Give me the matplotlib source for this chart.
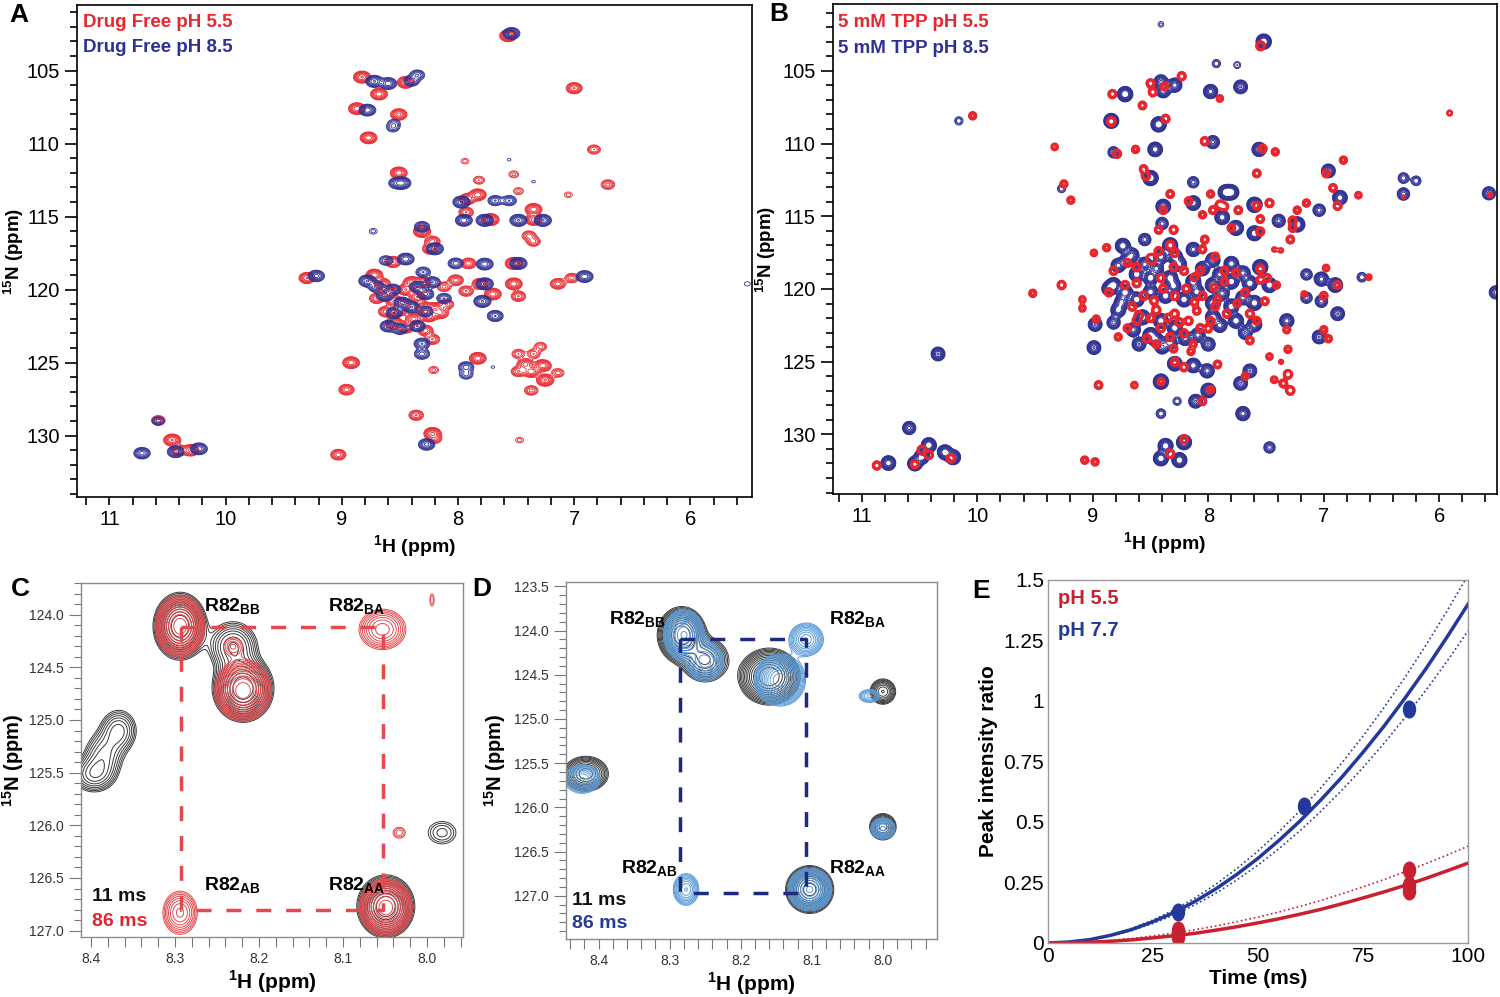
import numpy as np
import matplotlib.pyplot as plt
from matplotlib.path import Path
from matplotlib.transforms import Affine2D
from matplotlib.ticker import MultipleLocator, FormatStrFormatter, FixedLocator, FixedFormatter

plt.rcParams['font.family'] = ['Liberation Sans', 'DejaVu Sans']
plt.rcParams['mathtext.fontset'] = 'custom'
plt.rcParams['mathtext.rm'] = 'Liberation Sans'
plt.rcParams['mathtext.bf'] = 'Liberation Sans:bold'

RED = '#e8262d'
BLUE = '#2e3192'

# ---------------- panel A: drug free, peaks (1H ppm, 15N ppm, height)
A_red = [
    (7.567, 102.6, 1.0), (8.826, 105.44, 1.0), (8.45, 105.8, 0.9), (8.68, 106.6, 0.9),
    (7.00, 106.2, 0.7), (8.87, 107.6, 0.9), (8.51, 108.0, 0.8), (8.77, 109.6, 0.9),
    (6.83, 110.4, 0.35), (6.71, 112.8, 0.4), (8.51, 112.0, 0.9), (7.94, 111.2, 0.15),
    (7.52, 112.1, 0.2), (7.82, 112.5, 0.25), (7.48, 113.25, 0.2), (7.05, 113.5, 0.15),
    (7.83, 113.5, 0.9), (7.92, 113.8, 0.7), (7.93, 114.7, 0.5), (7.72, 115.2, 1.0),
    (7.35, 114.5, 0.9), (7.35, 115.2, 0.8), (7.39, 116.3, 0.4), (7.35, 116.7, 0.4),
    (8.31, 116.0, 1.0), (8.22, 116.7, 0.6), (8.24, 117.2, 0.6), (8.56, 118.1, 0.7),
    (7.91, 118.2, 0.6), (7.52, 118.2, 1.0), (9.30, 119.2, 0.7), (7.14, 119.6, 0.6),
    (7.02, 119.2, 0.4), (7.52, 119.6, 0.9), (7.81, 119.6, 0.7), (8.02, 119.35, 0.6),
    (7.93, 120.1, 0.5), (7.70, 120.3, 0.9), (7.48, 120.45, 0.5),
    (8.72, 119.0, 0.9), (8.65, 119.6, 0.7), (8.60, 120.2, 0.8), (8.55, 120.8, 0.7),
    (8.50, 121.4, 0.8), (8.45, 120.0, 0.7), (8.40, 119.5, 0.8), (8.35, 120.5, 0.7),
    (8.30, 121.2, 0.8), (8.25, 121.8, 0.9), (8.20, 121.3, 0.9), (8.15, 121.6, 0.7),
    (8.62, 121.5, 0.6), (8.55, 122.3, 1.0), (8.45, 122.6, 0.7), (8.38, 122.0, 0.8),
    (8.28, 122.8, 0.6), (8.22, 123.4, 0.5), (8.30, 119.5, 0.7), (8.12, 119.8, 0.4),
    (8.10, 121.0, 0.5), (8.48, 121.0, 0.6), (8.70, 120.6, 0.5),
    (7.48, 124.4, 0.35), (7.35, 124.4, 0.35), (7.29, 123.9, 0.3), (7.42, 125.1, 0.8),
    (7.37, 125.6, 0.9), (7.27, 125.2, 0.9), (7.25, 126.2, 1.0), (7.14, 125.7, 0.3),
    (7.37, 126.9, 0.4), (7.48, 125.6, 0.5), (7.83, 124.7, 0.9), (8.92, 125.0, 0.9),
    (8.96, 126.85, 0.6), (9.03, 131.3, 0.6), (8.36, 128.6, 0.5), (8.22, 129.85, 1.0),
    (7.47, 130.3, 0.15), (8.21, 125.5, 0.2), (8.20, 130.2, 0.4),
    (10.58, 128.95, 0.4), (10.46, 130.3, 1.0), (10.30, 131.0, 0.8), (10.40, 131.0, 0.5),
]
A_blue = [
    (7.54, 102.45, 0.9), (8.72, 105.73, 1.0), (8.60, 105.88, 0.9), (8.35, 105.3, 0.5),
    (8.40, 105.7, 0.6), (8.78, 107.7, 0.9), (8.56, 108.9, 0.3), (8.48, 112.7, 1.0),
    (8.53, 112.7, 0.6), (7.97, 114.0, 1.0), (7.95, 115.25, 0.9), (7.68, 113.9, 0.5),
    (7.56, 113.9, 0.5), (7.77, 115.25, 1.0), (7.48, 115.25, 1.0), (7.27, 115.25, 1.0),
    (7.56, 111.1, 0.1), (7.35, 112.6, 0.1), (8.31, 115.7, 0.6), (8.20, 117.2, 1.0),
    (8.45, 117.9, 0.9), (8.02, 118.2, 0.6), (7.77, 118.25, 0.9), (7.48, 118.2, 1.0),
    (9.22, 119.06, 0.8), (6.91, 119.1, 0.9), (7.77, 119.6, 1.0), (7.79, 120.8, 1.0),
    (7.68, 121.8, 0.7), (8.78, 119.4, 1.0), (8.70, 119.8, 0.8), (8.63, 120.4, 0.8),
    (8.56, 120.0, 0.7), (8.48, 120.9, 0.8), (8.40, 121.2, 0.7), (8.35, 119.8, 0.7),
    (8.28, 120.3, 0.8), (8.22, 119.5, 0.7), (8.55, 121.6, 0.7), (8.60, 122.5, 0.8),
    (8.50, 122.7, 0.6), (8.35, 122.5, 0.7), (8.28, 121.5, 0.6), (8.12, 120.6, 0.5),
    (8.30, 118.8, 0.5), (8.31, 123.7, 0.7), (8.31, 124.4, 0.6), (7.93, 125.3, 0.6),
    (7.93, 125.8, 0.4), (8.27, 130.6, 0.8), (10.43, 131.1, 0.9), (10.23, 130.9, 0.9),
    (10.72, 131.2, 0.8), (10.58, 129.0, 0.3), (5.51, 119.6, 0.12), (7.70, 125.3, 0.1),
    (8.62, 118.0, 0.4), (8.73, 116.0, 0.15), (8.55, 108.6, 0.25),
]

# ---------------- panel B: 5 mM TPP
B_red = [
    (7.547, 103.28, 1.0), (8.83, 106.6, 0.8), (8.57, 107.38, 0.7), (8.84, 108.49, 1.0),
    (8.37, 108.3, 0.8), (8.50, 105.86, 0.8), (8.48, 106.47, 0.8), (8.23, 105.37, 0.8),
    (8.38, 106.08, 0.7), (10.04, 108.09, 0.6), (9.33, 110.23, 0.5), (9.09, 110.82, 0.2),
    (8.79, 110.70, 0.8), (8.63, 110.40, 0.6), (8.03, 109.84, 0.8), (7.90, 106.9, 0.5),
    (7.53, 110.35, 0.8), (7.42, 110.57, 0.6), (6.83, 111.14, 0.6), (6.98, 112.05, 0.7),
    (7.58, 112.05, 0.7), (8.56, 111.75, 0.7), (8.54, 112.24, 0.8), (9.25, 112.78, 0.6),
    (9.19, 113.89, 0.6), (8.33, 113.47, 0.7), (8.17, 113.96, 0.7), (7.98, 113.47, 0.6),
    (8.39, 114.58, 0.7), (7.90, 114.2, 0.8), (7.96, 114.58, 0.7), (7.86, 114.33, 0.7),
    (7.74, 114.58, 0.7), (7.58, 114.28, 0.8), (7.47, 114.09, 0.8), (7.15, 114.09, 0.6),
    (7.23, 114.58, 0.6), (6.92, 113.05, 0.7), (6.88, 114.28, 0.8), (6.70, 113.55, 0.5),
    (7.12, 105.79, 0.2), (6.77, 107.9, 0.2), (5.91, 107.9, 0.35), (6.31, 113.67, 0.25),
    (5.56, 113.55, 0.3), (7.27, 115.3, 0.8), (7.27, 115.8, 0.7), (7.55, 115.19, 0.7),
    (7.80, 115.8, 0.7), (7.55, 116.05, 0.8), (7.29, 116.6, 0.7), (7.43, 117.28, 0.3),
    (7.37, 117.35, 0.3), (8.05, 114.9, 0.6), (8.30, 115.93, 0.8), (8.43, 115.93, 0.7),
    (8.03, 116.6, 0.7), (8.88, 117.16, 0.6), (8.99, 117.52, 0.5), (8.82, 118.75, 0.8),
    (8.33, 116.99, 0.9), (8.43, 117.40, 0.8), (8.29, 117.52, 0.8), (8.50, 117.89, 0.8),
    (8.05, 117.28, 0.7), (7.94, 117.77, 0.7), (8.62, 118.5, 0.8), (8.41, 119.24, 0.8),
    (8.21, 118.75, 0.8), (8.07, 118.75, 0.7), (7.86, 118.75, 0.8), (7.76, 118.88, 0.7),
    (7.55, 118.63, 0.8), (7.49, 119.24, 0.7), (7.41, 119.73, 0.6), (7.55, 119.37, 0.7),
    (8.86, 120.23, 0.8), (8.72, 119.73, 0.8), (8.56, 120.47, 0.9), (8.39, 119.98, 0.8),
    (8.29, 120.47, 0.9), (8.19, 119.98, 0.8), (8.05, 120.47, 0.8), (7.86, 119.49, 0.7),
    (7.68, 120.23, 0.8), (7.51, 120.84, 0.7), (8.66, 121.21, 0.8), (8.45, 121.45, 0.9),
    (8.29, 121.70, 0.8), (8.17, 122.19, 0.8), (7.94, 121.21, 0.7), (7.84, 121.70, 0.8),
    (7.64, 121.70, 0.8), (7.58, 122.19, 0.7), (8.62, 122.19, 0.8), (8.41, 122.68, 0.9),
    (8.21, 123.05, 0.8), (8.53, 123.42, 0.8), (8.33, 123.30, 0.8), (8.07, 122.68, 0.7),
    (8.00, 122.73, 0.7), (7.64, 123.54, 0.7), (8.13, 123.79, 0.6), (8.78, 123.30, 0.6),
    (8.97, 122.07, 0.6), (9.09, 120.72, 0.5), (9.09, 121.33, 0.5), (9.52, 120.30, 0.6),
    (9.27, 119.73, 0.8), (7.32, 122.80, 0.6), (7.31, 124.15, 0.6), (7.00, 122.80, 0.6),
    (6.96, 123.42, 0.6), (7.00, 120.47, 0.7), (7.17, 120.35, 0.4), (6.98, 118.56, 0.5),
    (6.61, 119.19, 0.4), (6.88, 119.73, 0.7), (8.29, 125.01, 0.8), (8.21, 125.38, 0.8),
    (7.92, 125.19, 0.7), (7.98, 126.93, 0.6), (8.05, 127.72, 0.7), (8.64, 126.61, 0.5),
    (8.95, 126.61, 0.7), (8.41, 126.37, 0.6), (7.68, 126.0, 0.6), (7.47, 124.65, 0.5),
    (7.37, 125.01, 0.3), (7.31, 125.87, 0.9), (7.29, 126.98, 0.9), (7.43, 126.24, 0.5),
    (7.35, 126.5, 0.7), (9.07, 131.77, 0.6), (8.98, 131.89, 0.6), (8.33, 131.33, 0.9),
    (8.21, 130.34, 0.8), (10.48, 131.08, 1.0), (10.42, 131.40, 0.9), (10.23, 131.65, 0.9),
    (10.87, 132.14, 0.8), (10.54, 132.06, 0.8), (10.34, 125.31, 0.15), (7.47, 130.9, 0.15),
    (8.70, 118.2, 0.7), (8.48, 118.0, 0.7), (8.30, 118.5, 0.8), (8.12, 119.2, 0.7),
    (7.95, 119.9, 0.7), (7.75, 121.0, 0.7), (8.60, 121.8, 0.8), (8.50, 122.0, 0.8),
    (8.35, 122.0, 0.8), (8.25, 122.3, 0.8), (8.10, 121.5, 0.7), (7.98, 122.2, 0.7),
    (8.70, 122.7, 0.7), (8.45, 123.8, 0.7), (8.30, 124.1, 0.7), (8.15, 124.3, 0.6),
    (8.62, 119.6, 0.8), (8.47, 120.8, 0.8), (8.12, 120.9, 0.7), (7.92, 120.7, 0.7),
]
B_blue = [
    (7.52, 102.99, 1.0), (8.72, 106.6, 1.0), (8.39, 106.35, 0.8), (8.41, 105.74, 0.6),
    (8.29, 105.98, 0.7), (8.84, 108.44, 0.9), (8.43, 108.68, 1.0), (8.46, 110.40, 0.8),
    (7.98, 106.42, 0.7), (7.93, 104.5, 0.15), (7.72, 106.1, 0.6), (7.75, 104.6, 0.12),
    (8.41, 101.8, 0.1), (10.16, 108.44, 0.15), (7.56, 110.40, 0.7), (7.96, 109.9, 0.5),
    (8.82, 110.6, 0.3), (8.50, 112.37, 1.0), (9.27, 113.10, 0.15), (8.13, 112.66, 0.3),
    (7.85, 113.35, 0.9), (7.80, 113.35, 0.9), (8.13, 114.09, 0.8), (8.39, 114.33, 0.8),
    (7.60, 114.21, 1.0), (7.88, 115.07, 0.8), (7.76, 115.80, 0.9), (7.60, 116.17, 0.9),
    (7.39, 115.31, 0.5), (7.23, 115.56, 1.0), (6.96, 111.88, 0.6), (6.86, 113.72, 0.8),
    (7.04, 114.58, 0.4), (6.31, 112.37, 0.25), (6.20, 112.56, 0.2), (6.31, 113.47, 0.4),
    (5.57, 113.42, 0.5), (5.51, 120.23, 0.5), (6.67, 119.19, 0.2), (7.15, 119.0, 0.3),
    (7.02, 119.32, 0.7), (6.90, 119.73, 0.8), (7.02, 120.84, 0.4), (6.88, 121.70, 0.6),
    (7.15, 120.6, 0.3), (7.04, 123.30, 0.6), (7.32, 122.19, 0.7),
    (8.74, 117.03, 0.9), (8.66, 117.65, 0.6), (8.78, 118.38, 0.7), (8.41, 117.77, 0.8),
    (8.33, 116.99, 0.9), (8.29, 117.77, 0.9), (8.13, 117.28, 0.7), (7.96, 118.0, 0.7),
    (7.80, 118.26, 0.8), (7.55, 118.5, 1.0), (7.47, 119.73, 0.9), (8.62, 118.99, 0.9),
    (8.50, 119.24, 0.9), (8.33, 119.24, 0.9), (8.13, 119.49, 0.9), (7.96, 119.73, 0.9),
    (7.80, 119.49, 0.9), (7.64, 119.61, 0.9), (8.82, 119.73, 0.9), (8.72, 120.23, 0.9),
    (8.62, 120.72, 0.9), (8.37, 120.47, 0.9), (8.21, 120.72, 0.9), (7.96, 120.96, 0.9),
    (7.80, 121.21, 0.9), (7.60, 120.96, 0.9), (8.78, 121.45, 0.8), (8.57, 121.95, 0.9),
    (8.41, 122.19, 0.9), (8.29, 122.68, 0.9), (7.96, 121.95, 0.9), (7.76, 122.19, 0.9),
    (7.60, 122.44, 0.8), (8.50, 123.17, 0.9), (8.33, 123.66, 0.8), (8.09, 123.17, 0.7),
    (8.86, 119.98, 0.7), (8.82, 122.31, 0.5), (8.98, 122.44, 0.6), (8.99, 124.03, 0.6),
    (8.41, 126.37, 1.0), (8.29, 125.14, 0.8), (8.13, 125.26, 0.8), (8.01, 125.63, 0.7),
    (8.00, 126.98, 0.8), (8.11, 127.72, 0.6), (7.64, 125.63, 0.6), (7.72, 126.49, 0.6),
    (7.70, 128.57, 0.7), (8.27, 127.72, 0.15), (8.41, 128.57, 0.2), (8.37, 130.79, 0.9),
    (8.21, 130.54, 0.9), (8.25, 131.77, 0.9), (8.41, 131.65, 0.9), (7.47, 130.9, 0.3),
    (10.34, 124.47, 0.6), (10.59, 129.56, 0.5), (10.42, 130.74, 0.9), (10.48, 131.53, 0.9),
    (10.28, 131.23, 0.9), (10.77, 131.97, 0.8), (10.54, 132.01, 0.8), (10.21, 131.57, 0.9),
    (8.70, 118.0, 0.7), (8.55, 118.3, 0.7), (8.45, 118.6, 0.7), (8.25, 118.3, 0.7),
    (8.05, 118.6, 0.7), (7.90, 119.0, 0.7), (7.70, 118.9, 0.7), (8.75, 120.9, 0.7),
    (8.50, 120.2, 0.8), (8.30, 119.8, 0.8), (8.10, 120.2, 0.8), (7.88, 120.3, 0.7),
    (7.70, 120.6, 0.7), (8.65, 122.8, 0.7), (8.45, 123.5, 0.7), (8.20, 123.4, 0.7),
    (8.00, 123.8, 0.6), (7.90, 122.5, 0.7), (7.68, 123.0, 0.6), (8.60, 123.8, 0.6),
    (8.40, 124.0, 0.6), (8.55, 116.6, 0.4), (8.40, 115.5, 0.4),
]

# ---------------- panels C and D: R82 exchange region (H, N, height, wH, wN)
C_11ms = [
    (8.294, 124.11, 1.0, 0.014, 0.14), (8.231, 124.30, 0.35, 0.016, 0.13),
    (8.219, 124.70, 1.0, 0.016, 0.14), (8.049, 126.77, 1.0, 0.015, 0.13),
    (8.367, 125.10, 0.25, 0.013, 0.12), (8.385, 125.33, 0.22, 0.014, 0.13),
    (8.397, 125.52, 0.25, 0.015, 0.10), (7.982, 126.07, 0.14, 0.014, 0.09),
]
C_86ms = [
    (8.294, 124.11, 0.9, 0.013, 0.13), (8.231, 124.30, 0.13, 0.010, 0.07),
    (8.219, 124.72, 0.9, 0.015, 0.13), (8.049, 126.78, 0.9, 0.014, 0.12),
    (8.053, 124.14, 0.32, 0.016, 0.11), (8.294, 126.83, 0.3, 0.012, 0.12),
    (8.033, 126.07, 0.12, 0.007, 0.05), (7.994, 123.86, 0.1, 0.003, 0.07),
]
D_11ms = [
    (8.283, 124.05, 1.0, 0.015, 0.14), (8.250, 124.33, 0.45, 0.017, 0.13),
    (8.160, 124.52, 1.0, 0.019, 0.14), (8.000, 124.69, 0.35, 0.010, 0.08),
    (8.418, 125.62, 0.5, 0.016, 0.10), (8.000, 126.22, 0.4, 0.010, 0.08),
    (8.103, 126.93, 0.9, 0.015, 0.12),
]
D_86ms = [
    (8.280, 124.05, 0.8, 0.013, 0.13), (8.250, 124.35, 0.4, 0.014, 0.12),
    (8.108, 124.10, 0.4, 0.013, 0.10), (8.145, 124.56, 0.9, 0.016, 0.13),
    (8.019, 124.74, 0.2, 0.010, 0.05), (8.423, 125.68, 0.35, 0.014, 0.09),
    (8.000, 126.24, 0.3, 0.010, 0.07), (8.277, 126.93, 0.35, 0.010, 0.10),
    (8.103, 126.93, 0.8, 0.014, 0.11),
]
# R82 auto / cross peak corners: 1H of B and A states, 15N of B and A states
C_R82_H = [8.293, 8.052]
C_R82_N = [124.12, 126.80]
D_R82_H = [8.285, 8.108]
D_R82_N = [124.10, 126.97]

# ---------------- panel E: build-up of exchange peaks
time_ms = [0, 5, 10, 15, 20, 25, 30, 35, 40, 45, 50, 55, 60, 65, 70, 75, 80, 85, 90, 95, 100]
fit77 = [0, 0.004, 0.014, 0.032, 0.056, 0.088, 0.126, 0.172, 0.224, 0.284, 0.35,
         0.424, 0.504, 0.592, 0.686, 0.788, 0.896, 1.012, 1.134, 1.264, 1.40]
fit77_hi = [0, 0.004, 0.015, 0.034, 0.061, 0.095, 0.137, 0.186, 0.243, 0.308, 0.38,
            0.46, 0.547, 0.642, 0.745, 0.855, 0.973, 1.098, 1.231, 1.372, 1.52]
fit77_lo = [0, 0.003, 0.013, 0.029, 0.052, 0.081, 0.116, 0.158, 0.206, 0.261, 0.322,
            0.39, 0.464, 0.545, 0.632, 0.725, 0.825, 0.932, 1.045, 1.164, 1.29]
fit55 = [0, 0.001, 0.003, 0.007, 0.013, 0.021, 0.03, 0.04, 0.053, 0.067, 0.083,
         0.1, 0.119, 0.139, 0.162, 0.186, 0.211, 0.238, 0.267, 0.298, 0.33]
fit55_hi = [0, 0.001, 0.005, 0.011, 0.019, 0.029, 0.041, 0.055, 0.07, 0.088, 0.107,
            0.128, 0.151, 0.176, 0.203, 0.232, 0.262, 0.294, 0.328, 0.363, 0.40]
pts77_t = [31, 61, 86]
pts77_y = [0.13, 0.565, 0.965]
pts55_t = [31, 31, 86, 86, 86]
pts55_y = [0.025, 0.055, 0.30, 0.215, 0.24]


def spectrum(hx, ny, peaks, sh=None, sn=None):
    pk = np.array(peaks, dtype=float)
    h, n, a = pk[:, 0], pk[:, 1], pk[:, 2]
    wh = pk[:, 3] if sh is None else np.full(len(pk), sh)
    wn = pk[:, 4] if sn is None else np.full(len(pk), sn)
    gh = np.exp(-0.5 * ((hx[None, :] - h[:, None]) / wh[:, None]) ** 2)
    gn = np.exp(-0.5 * ((ny[:, None] - n[None, :]) / wn[None, :]) ** 2)
    return gn @ (a[:, None] * gh)


def big_axes(ax, xlim, ylim, ylab_x):
    ax.set_xlim(*xlim)
    ax.set_ylim(*ylim)
    ax.xaxis.set_major_locator(MultipleLocator(1))
    ax.xaxis.set_minor_locator(MultipleLocator(0.2))
    ax.yaxis.set_major_locator(MultipleLocator(5))
    ax.yaxis.set_minor_locator(MultipleLocator(1))
    ax.tick_params(axis='both', which='both', width=1.2, labelsize=14.5, direction='out')
    ax.tick_params(axis='y', which='major', length=9)
    ax.tick_params(axis='y', which='minor', length=5)
    ax.tick_params(axis='x', which='both', length=6)
    for s in ax.spines.values():
        s.set_linewidth(1.2)
    ax.set_xlabel(r'$^{\mathbf{1}}$H (ppm)', fontsize=14, fontweight='bold', labelpad=3)
    ax.set_ylabel(r'$^{\mathbf{15}}$N (ppm)', fontsize=13.5, fontweight='bold')
    ax.yaxis.set_label_coords(ylab_x, 0.5)


def small_axes(ax, xlim, ylim, ylab_x):
    ax.set_xlim(*xlim)
    ax.set_ylim(*ylim)
    ax.xaxis.set_major_locator(MultipleLocator(0.1))
    ax.xaxis.set_minor_locator(MultipleLocator(0.02))
    ax.yaxis.set_major_locator(MultipleLocator(0.5))
    ax.yaxis.set_minor_locator(MultipleLocator(0.1))
    ax.xaxis.set_major_formatter(FormatStrFormatter('%.1f'))
    ax.yaxis.set_major_formatter(FormatStrFormatter('%.1f'))
    ax.tick_params(axis='both', which='both', width=0.8, color='#777777',
                   labelsize=10, labelcolor='#333333', direction='out')
    ax.tick_params(axis='y', which='major', length=9)
    ax.tick_params(axis='y', which='minor', length=5)
    ax.tick_params(axis='x', which='both', length=7)
    for s in ax.spines.values():
        s.set_linewidth(1.0)
        s.set_color('#8a8a8a')
    ax.set_xlabel(r'$^{\mathbf{1}}$H (ppm)', fontsize=15, fontweight='bold', labelpad=2)
    ax.set_ylabel(r'$^{\mathbf{15}}$N (ppm)', fontsize=14.5, fontweight='bold')
    ax.yaxis.set_label_coords(ylab_x, 0.5)


fig = plt.figure(figsize=(15, 9.97), dpi=100)

# ---- A
axA = fig.add_axes([0.0513, 0.5015, 0.45, 0.4935])
hx = np.arange(5.4, 11.35, 0.005)
ny = np.arange(100.3, 134.4, 0.04)
levA = 0.09 * 1.4 ** np.arange(8)
axA.contour(hx, ny, spectrum(hx, ny, A_red, 0.034, 0.19), levels=levA, colors=RED, linewidths=0.6)
axA.contour(hx, ny, spectrum(hx, ny, A_blue, 0.034, 0.19), levels=levA, colors=BLUE, linewidths=0.6)
big_axes(axA, (11.28, 5.47), (134.2, 100.5), -0.076)
axA.text(0.009, 0.965, 'Drug Free pH 5.5', color=RED, fontsize=13.5, fontweight='bold',
         transform=axA.transAxes, va='center')
axA.text(0.009, 0.913, 'Drug Free pH 8.5', color=BLUE, fontsize=13.5, fontweight='bold',
         transform=axA.transAxes, va='center')

# ---- B
axB = fig.add_axes([0.5553, 0.5045, 0.4427, 0.4915])
levBb = 0.07 * 1.3 ** np.arange(9)
levBr = 0.2 * 1.35 ** np.arange(4)
axB.contour(hx, ny, spectrum(hx, ny, B_blue, 0.029, 0.23), levels=levBb, colors=BLUE, linewidths=0.7)
axB.contour(hx, ny, spectrum(hx, ny, B_red, 0.022, 0.18), levels=levBr, colors=RED, linewidths=1.3)
big_axes(axB, (11.25, 5.5), (134.1, 100.4), -0.082)
axB.text(0.008, 0.963, '5 mM TPP pH 5.5', color=RED, fontsize=13.5, fontweight='bold',
         transform=axB.transAxes, va='center')
axB.text(0.008, 0.910, '5 mM TPP pH 8.5', color=BLUE, fontsize=13.5, fontweight='bold',
         transform=axB.transAxes, va='center')

# ---- C
axC = fig.add_axes([0.054, 0.0602, 0.2547, 0.355])
hc = np.arange(7.94, 8.43, 0.001)
nc = np.arange(123.6, 127.2, 0.006)
levC = 0.07 * 1.22 ** np.arange(13)
axC.contour(hc, nc, spectrum(hc, nc, C_11ms), levels=levC, colors='#3a3a3a', linewidths=0.7)
axC.contour(hc, nc, spectrum(hc, nc, C_86ms), levels=levC, colors='#e5484d', linewidths=0.7)
rh = [C_R82_H[0], C_R82_H[1], C_R82_H[1], C_R82_H[0], C_R82_H[0]]
rn = [C_R82_N[0], C_R82_N[0], C_R82_N[1], C_R82_N[1], C_R82_N[0]]
axC.plot(rh, rn, color='#e5484d', lw=2.5, dashes=(4.3, 4.3))
small_axes(axC, (8.412, 7.957), (127.06, 123.70), -0.145)
labC = {'BB': (8.265, 123.97), 'BA': (8.118, 123.97), 'AB': (8.265, 126.62), 'AA': (8.118, 126.62)}
for k, (x, y) in labC.items():
    axC.text(x, y, 'R82$_{\\mathbf{%s}}$' % k, fontsize=14, fontweight='bold', va='baseline')
axC.text(0.03, 0.113, '11 ms', color='#111111', fontsize=14, fontweight='bold',
         transform=axC.transAxes, va='center')
axC.text(0.03, 0.045, '86 ms', color='#e0262d', fontsize=14, fontweight='bold',
         transform=axC.transAxes, va='center')

# ---- D
axD = fig.add_axes([0.3773, 0.0582, 0.2473, 0.358])
hd = np.arange(7.90, 8.47, 0.001)
nd = np.arange(123.4, 127.6, 0.006)
axD.contour(hd, nd, spectrum(hd, nd, D_11ms), levels=levC, colors='#3a3a3a', linewidths=0.7)
axD.contour(hd, nd, spectrum(hd, nd, D_86ms), levels=levC, colors='#5b9bd8', linewidths=0.7)
rh = [D_R82_H[0], D_R82_H[1], D_R82_H[1], D_R82_H[0], D_R82_H[0]]
rn = [D_R82_N[0], D_R82_N[0], D_R82_N[1], D_R82_N[1], D_R82_N[0]]
axD.plot(rh, rn, color='#1d2a80', lw=2.5, dashes=(4.3, 4.3))
small_axes(axD, (8.446, 7.924), (127.49, 123.45), -0.155)
labD = {'BB': (8.386, 123.93), 'BA': (8.076, 123.93), 'AB': (8.368, 126.75), 'AA': (8.076, 126.75)}
for k, (x, y) in labD.items():
    axD.text(x, y, 'R82$_{\\mathbf{%s}}$' % k, fontsize=14, fontweight='bold', va='baseline')
axD.text(0.016, 0.109, '11 ms', color='#111111', fontsize=14, fontweight='bold',
         transform=axD.transAxes, va='center')
axD.text(0.016, 0.042, '86 ms', color='#253a96', fontsize=14, fontweight='bold',
         transform=axD.transAxes, va='center')

# ---- E
axE = fig.add_axes([0.6987, 0.0542, 0.28, 0.3641])
E_RED = '#c8202e'
E_BLUE = '#23399a'
axE.plot(time_ms, fit77_hi, color=E_BLUE, lw=1.2, ls=':')
axE.plot(time_ms, fit77_lo, color=E_BLUE, lw=1.2, ls=':')
axE.plot(time_ms, fit77, color=E_BLUE, lw=2.5)
axE.plot(time_ms, fit55_hi, color=E_RED, lw=1.2, ls=':')
axE.plot(time_ms, fit55, color=E_RED, lw=2.5)
ell = Path.unit_circle().transformed(Affine2D().scale(0.72, 1.0))
axE.plot(pts77_t, pts77_y, ls='none', marker=ell, ms=12, color=E_BLUE)
axE.plot(pts55_t, pts55_y, ls='none', marker=ell, ms=12, color=E_RED)
axE.set_xlim(0, 100)
axE.set_ylim(0, 1.5)
axE.xaxis.set_major_locator(FixedLocator([0, 25, 50, 75, 100]))
axE.yaxis.set_major_locator(FixedLocator([0, 0.25, 0.5, 0.75, 1, 1.25, 1.5]))
axE.yaxis.set_major_formatter(FixedFormatter(['0', '0.25', '0.5', '0.75', '1', '1.25', '1.5']))
axE.tick_params(length=0, labelsize=15, pad=3)
for s in axE.spines.values():
    s.set_color('#9a9a9a')
    s.set_linewidth(1.0)
axE.set_xlabel('Time (ms)', fontsize=15, fontweight='bold', labelpad=2)
axE.set_ylabel('Peak intensity ratio', fontsize=15, fontweight='bold')
axE.yaxis.set_label_coords(-0.118, 0.5)
axE.text(0.024, 0.95, 'pH 5.5', color=E_RED, fontsize=14.5, fontweight='bold',
         transform=axE.transAxes, va='center')
axE.text(0.024, 0.862, 'pH 7.7', color=E_BLUE, fontsize=14.5, fontweight='bold',
         transform=axE.transAxes, va='center')

# panel letters
for lab, x, y in [('A', 0.006, 0.997), ('B', 0.513, 0.998), ('C', 0.007, 0.421),
                  ('D', 0.315, 0.421), ('E', 0.648, 0.419)]:
    fig.text(x, y, lab, fontsize=19, fontweight='bold', va='top', ha='left')

fig.savefig('out.png', dpi=100)
